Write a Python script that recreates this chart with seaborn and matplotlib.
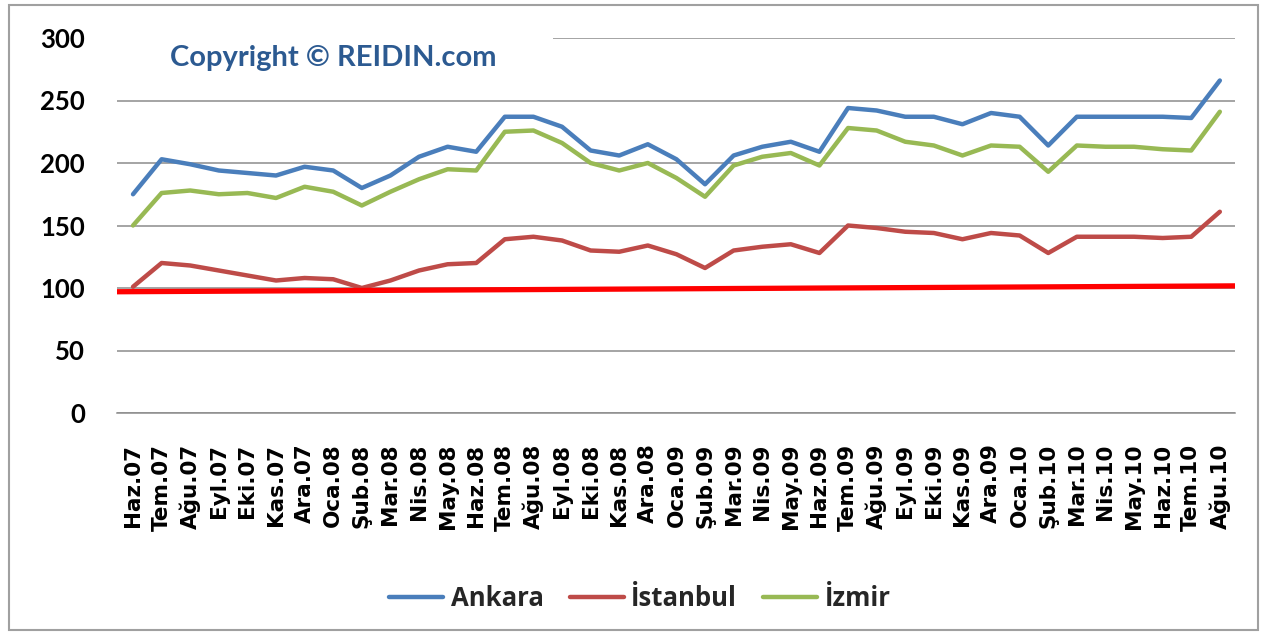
import matplotlib
matplotlib.use("Agg")
import matplotlib.pyplot as plt
from matplotlib.patches import Rectangle
import pandas as pd
import seaborn as sns

# Monthly index values (Haz.07 - Ağu.10)
months = ["Haz.07", "Tem.07", "Ağu.07", "Eyl.07", "Eki.07", "Kas.07", "Ara.07",
          "Oca.08", "Şub.08", "Mar.08", "Nis.08", "May.08", "Haz.08", "Tem.08",
          "Ağu.08", "Eyl.08", "Eki.08", "Kas.08", "Ara.08", "Oca.09", "Şub.09",
          "Mar.09", "Nis.09", "May.09", "Haz.09", "Tem.09", "Ağu.09", "Eyl.09",
          "Eki.09", "Kas.09", "Ara.09", "Oca.10", "Şub.10", "Mar.10", "Nis.10",
          "May.10", "Haz.10", "Tem.10", "Ağu.10"]

ankara = [175, 203, 199, 194, 192, 190, 197, 194, 180, 190, 205, 213, 209, 237,
          237, 229, 210, 206, 215, 203, 183, 206, 213, 217, 209, 244, 242, 237,
          237, 231, 240, 237, 214, 237, 237, 237, 237, 236, 266]

istanbul = [101, 120, 118, 114, 110, 106, 108, 107, 100, 106, 114, 119, 120, 139,
            141, 138, 130, 129, 134, 127, 116, 130, 133, 135, 128, 150, 148, 145,
            144, 139, 144, 142, 128, 141, 141, 141, 140, 141, 161]

izmir = [150, 176, 178, 175, 176, 172, 181, 177, 166, 177, 187, 195, 194, 225,
         226, 216, 200, 194, 200, 188, 173, 198, 205, 208, 198, 228, 226, 217,
         214, 206, 214, 213, 193, 214, 213, 213, 211, 210, 241]

series_names = ["Ankara", "İstanbul", "İzmir"]
colors = ["#4A7EBB", "#BE4B48", "#98B954"]

# reference line (start / end value across the plot)
baseline = [97, 101.7]

df = pd.DataFrame({"month": range(len(months)),
                   "Ankara": ankara, "İstanbul": istanbul, "İzmir": izmir})
long_df = df.melt(id_vars="month", var_name="city", value_name="index")

sns.set_theme(style="white")
plt.rcParams["font.family"] = ["DejaVu Sans"]

fig = plt.figure(figsize=(12.63, 6.38), dpi=100)
ax = fig.add_axes([117 / 1263, 1 - 413 / 638, (1235 - 117) / 1263, 375 / 638])

sns.lineplot(data=long_df, x="month", y="index", hue="city",
             hue_order=series_names, palette=colors, linewidth=3.2,
             sort=False, ax=ax, zorder=3)

ax.set_xlim(-0.56, len(months) - 1 + 0.53)
ax.set_ylim(0, 300)
ax.plot(ax.get_xlim(), baseline, color="#FF0000", linewidth=3.8,
        solid_capstyle="butt", zorder=4)

ax.set_yticks([0, 50, 100, 150, 200, 250, 300])
ax.set_xticks(range(len(months)))
ax.set_xticklabels(months, rotation=90, va="top", ha="center",
                   fontsize=15.5, fontweight="bold", family=["DejaVu Sans"])
for t in ax.get_yticklabels():
    t.set_fontfamily(["Lato", "DejaVu Sans"])
    t.set_fontsize(18.5)
    t.set_fontweight("bold")
ax.tick_params(axis="both", length=0, colors="black")
ax.tick_params(axis="y", pad=23)
ax.tick_params(axis="x", pad=22)
ax.set_xlabel("")
ax.set_ylabel("")

ax.set_axisbelow(True)
ax.yaxis.grid(True, color="#8C8C8C", linewidth=1.1)
for side in ["left", "right", "top"]:
    ax.spines[side].set_visible(False)
ax.spines["bottom"].set_color("#8C8C8C")
ax.spines["bottom"].set_linewidth(1.1)

# title box hides part of the top gridline
ax.add_patch(Rectangle((0, 0.96), (553 - 117) / 1118, 0.08, transform=ax.transAxes,
                       facecolor="white", edgecolor="none", zorder=1, clip_on=False))
ax.text((170 - 117) / 1118, (413 - 58) / 375, "Copyright © REIDIN.com",
        transform=ax.transAxes, ha="left", va="center", fontsize=21,
        fontweight="bold", color="#2C5A91", family=["Lato", "DejaVu Sans"],
        zorder=5)

handles, labels = ax.get_legend_handles_labels()
ax.legend_.remove()
fig.legend(handles, labels, loc="center", bbox_to_anchor=(640 / 1263, 1 - 598 / 638),
           ncol=3, frameon=False, handlelength=2.1, handletextpad=0.3,
           columnspacing=1.0,
           prop={"family": ["Open Sans", "DejaVu Sans"], "size": 18.5, "weight": "bold"})

# chart area frame
fig.patches.append(Rectangle((9 / 1263, 1 - 630 / 638), (1258 - 9) / 1263, (630 - 5) / 638,
                             transform=fig.transFigure, fill=False,
                             edgecolor="#A0A0A0", linewidth=1.5))

fig.savefig("out.png", dpi=100, facecolor="white")
